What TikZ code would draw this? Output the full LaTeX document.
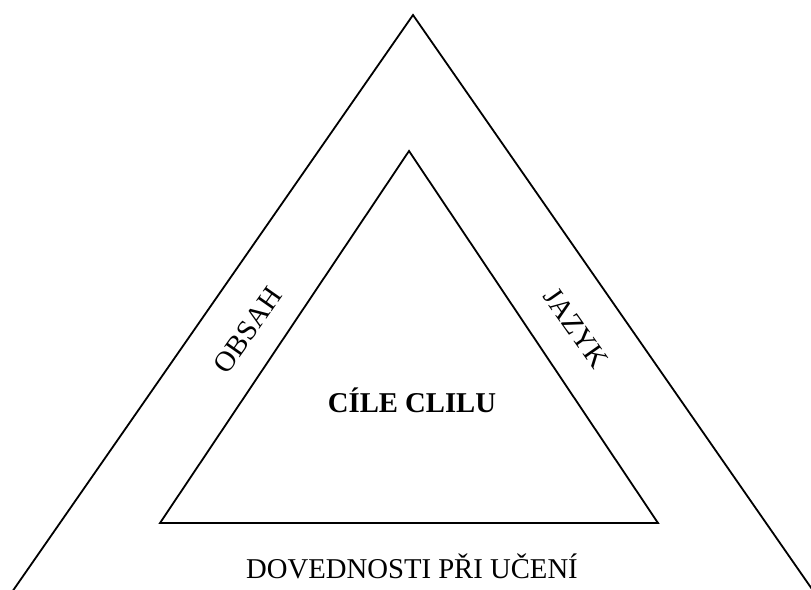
\documentclass[tikz,border=0pt]{standalone}
\usepackage{fontspec}
\setmainfont{Liberation Serif}
\begin{document}
\begin{tikzpicture}[x=1pt,y=-1pt,
  edge/.style={line width=1.8pt, line join=miter, black},
  lbl/.style={font=\fontsize{28.7}{34}\selectfont, inner sep=0pt}]
\useasboundingbox (0,0) rectangle (811,589);
\clip (0,0) rectangle (811,589);
% outer triangle (sides run past the bottom edge)
\coordinate (oA) at (413,15);
\coordinate (oL) at (12,592);
\coordinate (oR) at (814,592);
\draw[edge] (oL) -- (oA) -- (oR);
% inner triangle
\coordinate (iA) at (409,151);
\coordinate (iL) at (160,523);
\coordinate (iR) at (658,523);
\draw[edge] (iA) -- (iR) -- (iL) -- cycle;
% labels
\node[lbl, rotate=55] (obsah) at (248,330) {OBSAH};
\node[lbl, rotate=-55] (jazyk) at (576,328) {JAZYK};
\node[lbl, font=\fontsize{28.7}{34}\selectfont\bfseries, anchor=base] (cile) at (412,412) {CÍLE CLILU};
\node[lbl, anchor=base] (dov) at (412,578) {DOVEDNOSTI PŘI UČENÍ};
\end{tikzpicture}
\end{document}
